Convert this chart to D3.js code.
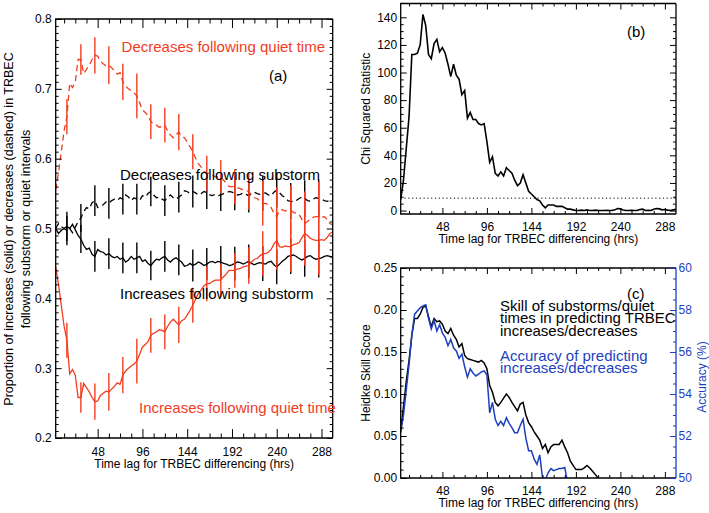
<!DOCTYPE html>
<html><head><meta charset="utf-8">
<script src="https://cdn.jsdelivr.net/npm/d3@7"></script>
<style>body{margin:0;background:#fff}</style>
</head><body><svg id="c" width="709" height="513"></svg>
<script>
// ---------------- DATA ----------------
const lags = [3,6,9,12,15,18,21,24,27,30,33,36,39,42,45,48,51,54,57,60,63,66,69,72,75,78,81,84,87,90,93,96,99,102,105,108,111,114,117,120,123,126,129,132,135,138,141,144,147,150,153,156,159,162,165,168,171,174,177,180,183,186,189,192,195,198,201,204,207,210,213,216,219,222,225,228,231,234,237,240,243,246,249,252,255,258,261,264,267,270,273,276,279,282,285,288,291,294,297,300];

// (a) proportions
const incQuiet = [.445,.420,.390,.360,.340,.292,.298,.290,.258,.258,
  .278,.272,.266,.258,.252,.253,.261,.264,.267,.266,
  .270,.274,.279,.277,.290,.296,.300,.303,.306,.310,
  .320,.330,.334,.338,.347,.350,.352,.355,.354,.352,
  .360,.366,.370,.366,.362,.368,.370,.376,.383,.390,
  .399,.407,.412,.418,.421,.421,.424,.426,.426,.426,
  .431,.435,.440,.440,.440,.442,.443,.445,.446,.447,
  .452,.456,.457,.461,.464,.464,.466,.470,.478,.483,
  .474,.473,.475,.474,.474,.477,.478,.480,.487,.493,
  .490,.486,.484,.483,.483,.484,.483,.487,.493,.495];
const decQuiet = [.555,.580,.610,.640,.660,.708,.702,.710,.742,.742,
  .722,.728,.734,.742,.748,.747,.739,.736,.733,.734,
  .730,.726,.721,.723,.710,.704,.700,.697,.694,.690,
  .680,.670,.666,.662,.653,.650,.648,.645,.646,.648,
  .640,.634,.630,.634,.638,.632,.630,.624,.617,.610,
  .601,.593,.588,.582,.579,.579,.576,.574,.574,.574,
  .569,.565,.560,.560,.560,.558,.557,.555,.554,.553,
  .548,.544,.543,.539,.536,.536,.534,.530,.522,.517,
  .526,.527,.525,.526,.526,.523,.522,.520,.513,.507,
  .510,.514,.516,.517,.517,.516,.517,.513,.507,.505];
const incSub = [.500,.493,.497,.500,.503,.500,.506,.498,.490,.485,
  .476,.470,.472,.463,.460,.470,.467,.466,.462,.464,
  .460,.458,.460,.456,.458,.452,.455,.460,.456,.458,
  .460,.453,.455,.450,.447,.452,.456,.455,.458,.460,
  .455,.452,.456,.458,.455,.452,.446,.447,.450,.447,
  .449,.452,.450,.447,.449,.452,.453,.451,.453,.452,
  .450,.449,.447,.448,.450,.452,.451,.449,.451,.453,
  .450,.448,.450,.451,.450,.449,.452,.453,.448,.445,
  .449,.453,.456,.460,.461,.462,.460,.457,.455,.457,
  .460,.461,.458,.456,.457,.458,.460,.461,.460,.459];
const decSub = [.500,.507,.503,.500,.497,.500,.494,.502,.510,.515,
  .524,.530,.528,.537,.540,.530,.533,.534,.538,.536,
  .540,.542,.540,.544,.542,.548,.545,.540,.544,.542,
  .540,.547,.545,.550,.553,.548,.544,.545,.542,.540,
  .545,.548,.544,.542,.545,.548,.554,.553,.550,.553,
  .551,.548,.550,.553,.551,.548,.547,.549,.547,.548,
  .550,.551,.553,.552,.550,.548,.549,.551,.549,.547,
  .550,.552,.550,.549,.550,.551,.548,.547,.552,.555,
  .551,.547,.544,.540,.539,.538,.540,.543,.545,.543,
  .540,.539,.542,.544,.543,.542,.540,.539,.540,.541];
const barLags = [15,30,45,60,75,90,105,120,135,150,165,180,195,210,225,240,255,270,285];
const errQuiet = [.025,.022,.026,.027,.026,.032,.025,.025,.026,.025,.025,.024,.025,.026,.032,.042,.036,.046,.050];
const errSub = [.021,.020,.022,.022,.022,.022,.021,.022,.022,.023,.023,.023,.024,.024,.025,.025,.026,.026,.027];

// (b) chi squared
const chiSq = [8,22,45,68,113,113,114,120,142,134,
  113,110,121,124,115,118,114,106,97,106,
  98,95,84,87,67,71,66,66,63,62,
  63,50,35,39,27,25,28,25,31,29,
  27,22,18,20,26,20,14,12,10,8,
  7,4,2,4,4,4,3,3,3,2,
  1,1,0.5,0,0,0.3,0,0.5,0,0,
  0.3,0,0,0,0.2,0,0,0.5,1.5,1.2,
  0.4,0,0,0.2,0,0,0.8,1,0,0.2,
  0,1,1.5,1.2,0.5,0.8,0.3,0,0.5,1];
const chiThreshold = 9;

// (c) Heidke skill score (lags 3..222) and accuracy % (lags 3..186)
const hss = [.056,.085,.115,.140,.170,.190,.190,.195,.203,.205,
  .192,.180,.190,.186,.187,.183,.175,.172,.178,.170,
  .165,.156,.160,.146,.142,.141,.140,.139,.138,.140,
  .137,.130,.110,.102,.090,.086,.090,.095,.100,.096,
  .090,.085,.080,.088,.090,.075,.066,.061,.055,.050,
  .045,.035,.040,.030,.037,.040,.040,.040,.045,.037,
  .030,.020,.015,.010,.010,.010,.012,.015,.012,.008,
  .004,.000,-.005,-.010];
const accuracy = [52.16,53.0,54.2,55.4,56.8,57.8,57.95,58.1,58.2,58.25,
  57.6,57.1,57.5,57.0,57.3,56.9,56.7,56.3,56.6,56.2,
  56.05,55.7,55.9,55.3,54.8,55.2,55.0,54.86,54.95,55.05,
  55.1,54.9,53.1,53.6,52.8,52.5,52.7,52.5,52.87,52.6,
  52.4,52.16,52.16,52.5,52.8,51.9,51.3,51.3,50.9,50.65,
  51.1,50.0,49.9,50.25,50.45,50.35,50.4,50.45,50.45,50.5,
  49.8,49.5];

const xMajor = [48,96,144,192,240,288];
const xMinor = [12,24,36,60,72,84,108,120,132,156,168,180,204,216,228,252,264,276];
const yTicksA = [0.2,0.3,0.4,0.5,0.6,0.7,0.8];
const yTicksB = [0,20,40,60,80,100,120,140];
const yTicksC = [0,0.05,0.10,0.15,0.20,0.25];
const yTicksAcc = [50,52,54,56,58,60];

// ---------------- DRAW ----------------
const svg = d3.select("#c");
const FONT = '"Liberation Sans", Arial, Helvetica, sans-serif';
const RED = "#f23c1f", BLUE = "#1d3fbf", BLACK = "#000";
svg.style("font-family", FONT);

const A = {l:55.7, r:332.7, t:19, b:438};
const B = {l:400.7, r:676, t:3.5, b:214};
const C = {l:400.7, r:676, t:268, b:478};
const xDom = [3,300];

const xA = d3.scaleLinear().domain(xDom).range([A.l, A.r]);
const yA = d3.scaleLinear().domain([0.2,0.8]).range([A.b, A.t]);
const xB = d3.scaleLinear().domain(xDom).range([B.l, B.r]);
const yB = d3.scaleLinear().domain([-2.5,150]).range([B.b, B.t]);
const xC = d3.scaleLinear().domain(xDom).range([C.l, C.r]);
const yC = d3.scaleLinear().domain([0,0.25]).range([C.b, C.t]);
const yAcc = d3.scaleLinear().domain([50,60]).range([C.b, C.t]);

function minorVals(majors, step){
  const out=[]; const lo=majors[0], hi=majors[majors.length-1];
  const n=Math.round((hi-lo)/step);
  for(let i=0;i<=n;i++){const v=+(lo+i*step).toFixed(6); if(!majors.some(m=>Math.abs(m-v)<1e-9)) out.push(v);}
  return out;
}

function styleAxis(g, color, size){
  g.attr("font-family", FONT).attr("font-size", size||12).attr("color", color||BLACK);
  g.select(".domain").remove();
  g.selectAll(".tick line").attr("stroke-width",1);
}

function frame(box, xs, ys, opts){
  const o = Object.assign({xMaj:9, xMin:4.5, yMaj:6, yMin:3, xPad:9, yPad:4, yFmt:d3.format(".1f"), yMinor:[], yTicks:[], rightAxis:true}, opts);
  // bottom
  svg.append("g").attr("transform",`translate(0,${box.b})`)
    .call(d3.axisBottom(xs).tickValues(xMajor).tickSize(-o.xMaj).tickPadding(o.xPad).tickFormat(d3.format("d")))
    .call(g=>styleAxis(g));
  svg.append("g").attr("transform",`translate(0,${box.b})`)
    .call(d3.axisBottom(xs).tickValues(xMinor).tickSize(-o.xMin).tickFormat(""))
    .call(g=>styleAxis(g));
  // top
  svg.append("g").attr("transform",`translate(0,${box.t})`)
    .call(d3.axisTop(xs).tickValues(xMajor).tickSize(-o.xMaj).tickFormat(""))
    .call(g=>styleAxis(g));
  svg.append("g").attr("transform",`translate(0,${box.t})`)
    .call(d3.axisTop(xs).tickValues(xMinor).tickSize(-o.xMin).tickFormat(""))
    .call(g=>styleAxis(g));
  // left
  svg.append("g").attr("transform",`translate(${box.l},0)`)
    .call(d3.axisLeft(ys).tickValues(o.yTicks).tickSize(-o.yMaj).tickPadding(o.yPad).tickFormat(o.yFmt))
    .call(g=>styleAxis(g));
  svg.append("g").attr("transform",`translate(${box.l},0)`)
    .call(d3.axisLeft(ys).tickValues(o.yMinor).tickSize(-o.yMin).tickFormat(""))
    .call(g=>styleAxis(g));
  if(o.rightAxis){
    svg.append("g").attr("transform",`translate(${box.r},0)`)
      .call(d3.axisRight(ys).tickValues(o.yTicks).tickSize(-o.yMaj).tickFormat(""))
      .call(g=>styleAxis(g));
    svg.append("g").attr("transform",`translate(${box.r},0)`)
      .call(d3.axisRight(ys).tickValues(o.yMinor).tickSize(-o.yMin).tickFormat(""))
      .call(g=>styleAxis(g));
  }
  // border lines
  const bc = o.rightColor || BLACK;
  svg.append("path").attr("d",`M${box.r},${box.t}H${box.l}V${box.b}H${box.r}`)
    .attr("fill","none").attr("stroke",BLACK).attr("stroke-width",1.3);
  svg.append("line").attr("x1",box.r).attr("x2",box.r).attr("y1",box.t).attr("y2",box.b)
    .attr("stroke",bc).attr("stroke-width",1.3);
}

function clip(id, box){
  svg.append("clipPath").attr("id",id).append("rect")
    .attr("x",box.l).attr("y",box.t).attr("width",box.r-box.l).attr("height",box.b-box.t);
}
clip("clipA",A); clip("clipB",B); clip("clipC",C);

function text(x,y,str,opt){
  const o=Object.assign({size:12,color:BLACK,anchor:"start",rot:0},opt);
  const t=svg.append("text").attr("font-size",o.size).attr("fill",o.color).attr("text-anchor",o.anchor)
    .attr("font-family",FONT).text(str);
  if(o.rot) t.attr("transform",`translate(${x},${y}) rotate(${o.rot})`);
  else t.attr("x",x).attr("y",y);
  return t;
}

// ---- Panel (a) ----
const lineA = (ys)=> d3.line().x((d,i)=>xA(lags[i])).y(d=>ys(d));
const gA = svg.append("g").attr("clip-path","url(#clipA)");
function drawSeriesA(vals, color, dashed){
  gA.append("path").datum(vals).attr("d", lineA(yA)).attr("fill","none")
    .attr("stroke",color).attr("stroke-width",1.3)
    .attr("stroke-dasharray", dashed ? "6,4" : null);
}
function drawBars(vals, errs, color){
  gA.selectAll(null).data(barLags).enter().append("line")
    .attr("x1",d=>xA(d)).attr("x2",d=>xA(d))
    .attr("y1",(d,i)=>yA(vals[lags.indexOf(d)]-errs[i]))
    .attr("y2",(d,i)=>yA(vals[lags.indexOf(d)]+errs[i]))
    .attr("stroke",color).attr("stroke-width",1.4);
}
drawSeriesA(incSub, BLACK, false);
drawSeriesA(decSub, BLACK, true);
drawBars(incSub, errSub, BLACK);
drawBars(decSub, errSub, BLACK);
drawSeriesA(incQuiet, RED, false);
drawSeriesA(decQuiet, RED, true);
drawBars(incQuiet, errQuiet, RED);
drawBars(decQuiet, errQuiet, RED);

frame(A, xA, yA, {yTicks:yTicksA, yMinor:minorVals(yTicksA,0.01), yFmt:d3.format(".1f"), xMaj:9, xMin:4.5, yMaj:6, yMin:3, xPad:9, yPad:4});

text(325,51.7,"Decreases following quiet time",{size:15,color:RED,anchor:"end"});
text(269,81,"(a)",{size:15});
text(120,179.5,"Decreases following substorm",{size:15});
text(120,299,"Increases following substorm",{size:15});
text(139,412.5,"Increases following quiet time",{size:15,color:RED});
text((A.l+A.r)/2,468,"Time lag for TRBEC differencing (hrs)",{anchor:"middle"});
text(12.5,229,"Proportion of increases (solid) or decreases (dashed) in TRBEC",{anchor:"middle",rot:-90,size:12.5});
text(30,229,"following substorm or quiet intervals",{anchor:"middle",rot:-90,size:12.5});

// ---- Panel (b) ----
const gB = svg.append("g").attr("clip-path","url(#clipB)");
gB.append("path").datum([xDom[0], xDom[1]])
  .attr("d", d3.line().x(d=>xB(d)).y(()=>yB(chiThreshold)))
  .attr("fill","none").attr("stroke",BLACK).attr("stroke-width",1).attr("stroke-dasharray","1.2,2.6");
gB.append("path").datum(chiSq)
  .attr("d", d3.line().x((d,i)=>xB(lags[i])).y(d=>yB(d)))
  .attr("fill","none").attr("stroke",BLACK).attr("stroke-width",1.6);
frame(B, xB, yB, {yTicks:yTicksB, yMinor:minorVals(yTicksB,5), yFmt:d3.format("d"), xMaj:6, xMin:3, yMaj:6, yMin:3, xPad:8.5, yPad:3.5});
text(627,36.5,"(b)",{size:15});
text((B.l+B.r)/2,243,"Time lag for TRBEC differencing (hrs)",{anchor:"middle"});
text(370,(B.t+B.b)/2,"Chi Squared Statistic",{anchor:"middle",rot:-90});

// ---- Panel (c) ----
const gC = svg.append("g").attr("clip-path","url(#clipC)");
gC.append("path").datum(hss)
  .attr("d", d3.line().x((d,i)=>xC(lags[i])).y(d=>yC(d)))
  .attr("fill","none").attr("stroke",BLACK).attr("stroke-width",1.5);
gC.append("path").datum(accuracy)
  .attr("d", d3.line().x((d,i)=>xC(lags[i])).y(d=>yAcc(d)))
  .attr("fill","none").attr("stroke",BLUE).attr("stroke-width",1.5);
frame(C, xC, yC, {yTicks:yTicksC, yMinor:minorVals(yTicksC,0.01), yFmt:d3.format(".2f"), xMaj:6, xMin:3, yMaj:6, yMin:3, xPad:8.5, yPad:3.5, rightAxis:false, rightColor:BLUE});
svg.append("g").attr("transform",`translate(${C.r},0)`)
  .call(d3.axisRight(yAcc).tickValues(yTicksAcc).tickSize(-6).tickPadding(2.5).tickFormat(d3.format("d")))
  .call(g=>styleAxis(g,BLUE));
svg.append("g").attr("transform",`translate(${C.r},0)`)
  .call(d3.axisRight(yAcc).tickValues(minorVals(yTicksAcc,0.5)).tickSize(-3).tickFormat(""))
  .call(g=>styleAxis(g,BLUE));

text(627,299,"(c)",{size:15});
text(500,310.5,"Skill of substorms/quiet",{size:15});
text(500,323,"times in predicting TRBEC",{size:15});
text(500,335.5,"increases/decreases",{size:15});
text(500,360.7,"Accuracy of predicting",{size:15,color:BLUE});
text(500,373,"increases/decreases",{size:15,color:BLUE});
text((C.l+C.r)/2,507,"Time lag for TRBEC differencing (hrs)",{anchor:"middle"});
text(370,(C.t+C.b)/2,"Heidke Skill Score",{anchor:"middle",rot:-90});
text(706,377,"Accuracy (%)",{anchor:"middle",rot:-90,color:BLUE});
</script>
</body></html>
